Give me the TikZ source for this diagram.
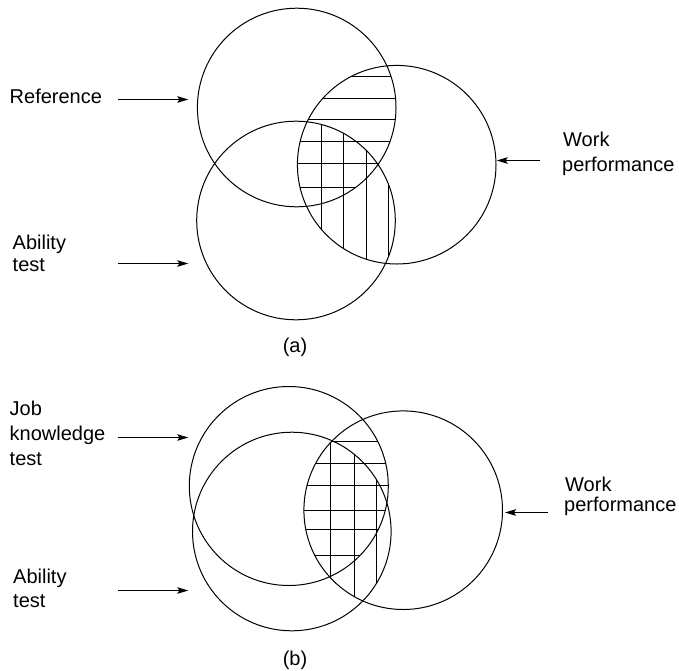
\documentclass[tikz,border=0pt]{standalone}
\usepackage{fontspec}
\setmainfont{Liberation Sans}
\usetikzlibrary{arrows.meta}
\begin{document}
\begin{tikzpicture}[x=1pt,y=-1pt,
  ring/.style={circle,draw,line width=1pt,minimum size=198.6pt,inner sep=0pt,outer sep=0pt},
  lbl/.style={anchor=base west,inner sep=0pt,font=\fontsize{20}{24}\selectfont},
  capt/.style={anchor=base,inner sep=0pt,font=\fontsize{20}{24}\selectfont},
  arr/.style={line width=1pt,-{Stealth[length=11pt,width=6.5pt,inset=2pt]}},
  hatch/.style={line width=1pt}]
\useasboundingbox (0,0) rectangle (679,670);

% ---------- (a) ----------
\node[ring] (refA) at (296.7,107.5) {};
\node[ring] (abA) at (296,220.5) {};
\node[ring] (wkA) at (396.7,164.7) {};

\begin{scope}
  \clip (refA.center) circle[radius=99.3pt];
  \clip (wkA.center) circle[radius=99.3pt];
  \foreach \yy in {76.5,98.5,119.5,141.5,163.5,187.5}
    \draw[hatch] (280,\yy) -- (420,\yy);
\end{scope}
\begin{scope}
  \clip (abA.center) circle[radius=99.3pt];
  \clip (wkA.center) circle[radius=99.3pt];
  \foreach \xx in {321.5,343.5,366.5,388.5}
    \draw[hatch] (\xx,60) -- (\xx,330);
\end{scope}

\node[lbl] (refL) at (9.5,103.3) {Reference};
\node[lbl] (abAL1) at (12.5,249.5) {Ability};
\node[lbl] (abAL2) at (12.5,271.7) {test};
\node[lbl] (wkAL1) at (563,146.7) {Work};
\node[lbl] (wkAL2) at (562,171.3) {performance};
\node[capt] (capA) at (295,352.5) {(a)};

\coordinate (refS) at (118.3,99.5);
\coordinate (refE) at (188.3,99.5);
\coordinate (abAS) at (118.3,263.5);
\coordinate (abAE) at (188.3,263.5);
\coordinate (wkAS) at (540,160.5);
\coordinate (wkAE) at (496.7,160.5);
\draw[arr] (refS) -- (refE);
\draw[arr] (abAS) -- (abAE);
\draw[arr] (wkAS) -- (wkAE);

% ---------- (b) ----------
\node[ring,minimum size=199pt] (jobB) at (288.8,486) {};
\node[ring] (abB) at (291.8,531.5) {};
\node[ring] (wkB) at (403.2,510.2) {};

\begin{scope}
  \clip (jobB.center) circle[radius=99.5pt];
  \clip (wkB.center) circle[radius=99.3pt];
  \foreach \yy in {441.5,463.5,485.5,510.5,529.5,555.5}
    \draw[hatch] (290,\yy) -- (420,\yy);
\end{scope}
\begin{scope}
  \clip (abB.center) circle[radius=99.3pt];
  \clip (wkB.center) circle[radius=99.3pt];
  \foreach \xx in {330.5,354.5,376.5}
    \draw[hatch] (\xx,400) -- (\xx,640);
\end{scope}

\node[lbl] (jobL1) at (9.5,415) {Job};
\node[lbl] (jobL2) at (9.5,440) {knowledge};
\node[lbl] (jobL3) at (9.5,465) {test};
\node[lbl] (abBL1) at (13,583.3) {Ability};
\node[lbl] (abBL2) at (13,607) {test};
\node[lbl] (wkBL1) at (565,491.7) {Work};
\node[lbl] (wkBL2) at (564,511.5) {performance};
\node[capt] (capB) at (295,665) {(b)};

\coordinate (jobS) at (118.3,437.5);
\coordinate (jobE) at (188.3,437.5);
\coordinate (abBS) at (118.3,590.5);
\coordinate (abBE) at (188.3,590.5);
\coordinate (wkBS) at (548,512.5);
\coordinate (wkBE) at (505,512.5);
\draw[arr] (jobS) -- (jobE);
\draw[arr] (abBS) -- (abBE);
\draw[arr] (wkBS) -- (wkBE);
\end{tikzpicture}
\end{document}
